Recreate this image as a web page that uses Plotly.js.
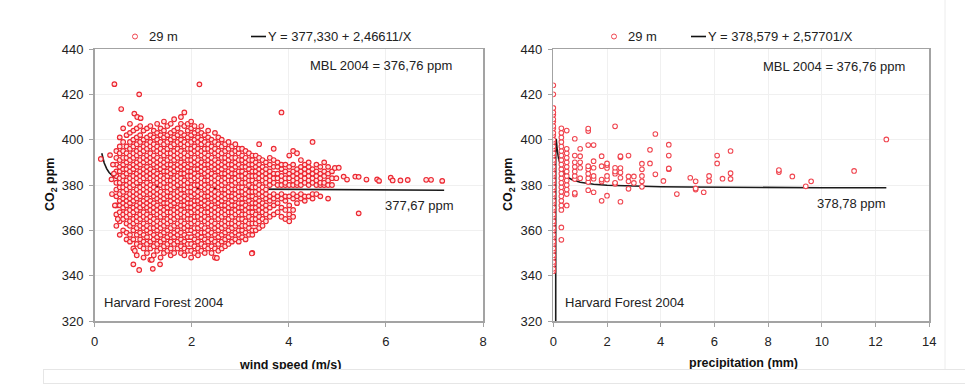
<!DOCTYPE html>
<html><head><meta charset="utf-8">
<script src="https://cdn.plot.ly/plotly-3.0.1.min.js"></script>
<style>html,body{margin:0;padding:0;background:#fff}#chart{width:965px;height:384px}</style>
</head><body><div id="chart"></div>
<script>
// ---------- Left panel: CO2 vs wind speed (values read column by column) ----------
const windSpeedCols = [0.45,0.52,0.59,0.66,0.73,0.80,0.87,0.94,1.01,1.08,1.15,1.22,1.29,1.36,1.43,1.50,1.57,1.64,1.71,1.78,1.85,1.92,1.99,2.06,2.13,2.20,2.27,2.34,2.41,2.48,2.55,2.62,2.69,2.76,2.83,2.90,2.97,3.04,3.11,3.18,3.25,3.32,3.39,3.46,3.53,3.61,3.69,3.77,3.85,3.93,4.01,4.09,4.17,4.25,4.33,4.41,4.49,4.57,4.65,4.73,4.81,4.89];
const co2ByWindCol = [
[362,367,371,375,378,381,384,386,389,392,395],
[358,364,368,371,373,376,379,381,383,386,388,391,394,397,401],
[360,365,367,370,372,374,377,379,382,384,387,389,392,395,399,405],
[356,359,363,366,368,371,373,375,378,380,382,385,387,390,392,394,397,402],
[355,358,362,364,367,369,372,374,376,379,381,383,386,388,391,393,396,399,403,407],
[352,356,360,363,365,368,370,373,375,377,380,382,384,387,389,392,394,397,400,404],
[349,354,358,361,364,366,369,371,374,376,378,381,383,385,388,390,393,395,398,401,405],
[353,356,359,362,365,367,370,372,375,377,379,382,384,386,389,391,394,396,399,402,406],
[348,352,355,358,361,363,366,368,371,373,376,378,380,383,385,387,390,392,395,397,400,404],
[350,354,357,360,362,365,367,370,372,374,377,379,381,384,386,388,391,393,396,398,401,405],
[347,352,355,359,361,364,366,369,371,373,376,378,380,383,385,387,390,392,394,397,399,402,406],
[349,353,356,358,361,363,365,368,370,372,375,377,379,382,384,386,389,391,393,396,398,401,404],
[351,354,357,360,362,364,367,369,371,374,376,378,381,383,385,388,390,392,395,397,400,403,407],
[348,352,355,358,361,363,366,368,370,373,375,377,380,382,384,387,389,391,394,396,399,402,405],
[350,353,356,359,362,364,367,369,372,374,376,379,381,383,386,388,390,393,395,398,401,404,408],
[351,354,357,360,363,365,368,370,372,375,377,379,382,384,386,389,391,394,396,399,402,406],
[349,352,355,358,361,364,366,368,371,373,375,378,380,382,385,387,389,392,394,397,400,403,407],
[350,354,357,359,362,365,367,369,372,374,376,379,381,383,386,388,391,393,395,398,401,404,409],
[352,355,358,360,363,366,368,370,373,375,377,380,382,384,387,389,392,394,396,399,402,405],
[350,353,356,359,362,364,367,369,371,374,376,378,381,383,385,388,390,393,395,398,400,403,407,410],
[349,352,355,358,361,363,366,368,371,373,375,378,380,382,385,387,389,392,394,397,399,402,406,412],
[351,354,357,360,362,365,367,370,372,374,377,379,381,384,386,388,391,393,396,398,401,404,407],
[348,351,354,357,360,363,365,368,370,372,375,377,379,382,384,386,389,391,394,396,399,402,405,408],
[350,353,356,359,361,364,366,369,371,373,376,378,380,383,385,387,390,392,395,397,400,403,406],
[349,352,355,358,361,363,366,368,370,373,375,377,380,382,384,387,389,391,394,396,399,401,404],
[351,354,357,359,362,365,367,369,372,374,376,379,381,383,386,388,390,393,395,398,400,403,406],
[350,353,356,359,361,364,366,368,371,373,375,378,380,382,385,387,389,392,394,396,399,402],
[352,355,358,360,363,365,368,370,372,375,377,379,382,384,386,389,391,393,396,398,401,404],
[350,353,356,359,362,364,367,369,371,374,376,378,381,383,385,388,390,392,395,397,400],
[348,352,355,358,361,363,366,368,370,373,375,377,380,382,384,387,389,391,394,396,399,403],
[351,354,357,360,362,365,367,369,372,374,376,379,381,383,386,388,390,393,395,398,401],
[352,355,358,361,363,366,368,371,373,375,378,380,382,385,387,389,392,394,397,400],
[353,356,359,362,364,367,369,371,374,376,378,381,383,385,388,390,392,395,398],
[354,357,360,363,365,368,370,372,375,377,379,382,384,386,389,391,393,396,399],
[355,358,361,363,366,368,371,373,375,378,380,382,385,387,389,392,394,397],
[356,359,362,364,367,369,371,374,376,378,381,383,385,388,390,392,395,398],
[355,358,360,363,365,368,370,372,375,377,379,382,384,386,389,391,394,396],
[357,360,362,365,367,370,372,374,377,379,381,384,386,388,391,393,396],
[356,359,362,364,367,369,371,374,376,378,381,383,385,388,390,392,395],
[358,361,363,366,368,370,373,375,377,380,382,384,387,389,391,394],
[350,358,360,363,365,368,370,372,375,377,379,382,384,386,389,391,393],
[360,363,365,367,370,372,374,377,379,381,384,386,388,390,393],
[361,364,366,369,371,373,376,378,380,383,385,387,389,392,398],
[362,365,368,370,372,375,377,379,382,384,386,388,391],
[364,367,369,371,374,376,378,381,383,385,387,390],
[366,370,373,375,380,382,384,386,389,392],
[367,371,374,376,381,383,385,388,391,396],
[368,372,375,380,383,385,388,390],
[366,370,374,376,380,382,384,387,389,412],
[365,369,373,375,380,381,383,386,389],
[364,367,371,375,380,383,385,388,393],
[366,369,374,376,380,382,384,386,389,395],
[372,375,380,381,383,385,387,394],
[374,376,380,382,384,386,388,391],
[373,375,381,383,385,387,389],
[375,380,382,384,386,388,390],
[374,376,381,383,385,387,399],
[376,380,382,384,386,389],
[375,380,381,383,385,388],
[380,381,384,386,390],
[374,380,382,385,388],
[380,383,386]
];
const windExtraX = [0.13,0.32,0.35,0.36,0.40,0.41,0.38,0.55,0.82,0.88,0.92,0.95,2.16,0.80,0.92,1.20,1.35,1.18,0.83,2.52,3.24,0.42,0.48,4.95,5.03,4.98,5.13,5.20,5.37,5.44,5.60,5.82,5.86,6.10,6.14,6.30,6.45,6.83,6.93,7.16,5.44];
const windExtraY = [391.5,393.2,382.5,376,385,424.5,389,413.5,411.5,410,420,409.5,424.4,345,342.5,343,345,347,351,347.8,349.8,371,365,387.5,387.6,383,383.7,382.4,383.7,383.6,382.4,382.5,381.8,383.2,382,382,382.2,382.3,382.3,381.8,367.5];
const windFitX = [0.15,0.2,0.25,0.3,0.4,0.5,0.6,0.8,1,1.5,2,3,4,5,5.7,5.7,6.5,7.2];
const windFitY = [394,389.7,387.2,385.5,383.5,382.3,381.4,380.4,379.8,379,378.6,378.2,378,377.9,377.9,377.7,377.7,377.67];

// ---------- Right panel: CO2 vs precipitation ----------
const precipCols = [0,0.3,0.5,0.8,1.0,1.3,1.5,1.8,2.0,2.3,2.5,2.8,3.0,3.3,3.6,3.8,4.1,4.3,4.6,5.1,5.3,5.6,5.8,6.1,6.3,6.6,8.4,8.9,9.4,9.6,11.2,12.4];
const co2ByPrecipCol = [
[342,343,345,346,348,349,351,352,354,355,357,358,360,361,363,364,366,367,369,370,372,373,375,376,378,379,381,382,384,385,387,388,390,391,393,394,396,397,399,400,402,403,405,406,408,409,411,412,414,420,424],
[355.8,361.3,369,371,373,375,377,379,381,383,385,387,389,391,393,395,397,399,401,403,405],
[371,376,378,380,382,384,386,388,390,392,394,396,404],
[375.8,376.5,382.6,384,386,388,390,393,400.4],
[383,387.6,390,392.7,396],
[377.7,381.3,383,385,387,388.3,397.6,403.8,404.9],
[376.8,382.8,384,387.6,390.5,397.6],
[373,381.5,382.4,388.3,392.7],
[375.3,382.4,384,387.5,388.8,389.5],
[380.5,381,385,386,387.6,405.9],
[372.6,383.2,385.5,387.5,392.2,392.7],
[378.3,381.6,383.8,393],
[380.9,383.8],
[379.2,381.6,384,386.9,389.4],
[389.5,395.5],
[384.7,402.5],
[381.8],
[387,387.3,393,397.8],
[376],
[383.2],
[378,378.5,381.6],
[376.8],
[381.8,384],
[389.5,393],
[382.8],
[382.7,385.2,395],
[385.7,386.6],
[383.8],
[379.4],
[381.6],
[386.2],
[400.1]
];
const precipFitX = [0.09,0.09,0.11,0.15,0.2,0.3,0.4,0.5,0.7,1,1.5,2,3,4,5,6,7.4,7.4,10,12.4];
const precipFitY = [320,400,400,395,391.5,387.2,385,383.7,382.3,381.2,380.3,379.9,379.4,379.2,379.1,379,379,378.8,378.8,378.78];

// ---------- Texts ----------
const seriesName = '29 m';
const eqLeft = 'Y = 377,330 + 2,46611/X';
const eqRight = 'Y = 378,579 + 2,57701/X';
const mblText = 'MBL 2004 = 376,76 ppm';
const endLeft = '377,67 ppm';
const endRight = '378,78 ppm';
const siteText = 'Harvard Forest 2004';
const yTitle = 'CO<sub>2</sub> ppm';
const xTitleLeft = 'wind speed (m/s)';
const xTitleRight = 'precipitation (mm)';

function flatten(cols, vals) {
  const x = [], y = [];
  cols.forEach((c, i) => vals[i].forEach(v => { x.push(c); y.push(v); }));
  return {x, y};
}
const wind = flatten(windSpeedCols, co2ByWindCol);
const windX = wind.x.concat(windExtraX), windY = wind.y.concat(windExtraY);
const prec = flatten(precipCols, co2ByPrecipCol);

const RED = 'rgb(236,40,50)';
const markerStyle = {symbol: 'circle', size: 4.6, color: 'rgb(255,226,226)', line: {color: RED, width: 1.2}};
const W = 965, H = 384;
const px = v => v / W, py = v => 1 - v / H;

const traces = [
  {x: windFitX, y: windFitY, mode: 'lines', line: {color: '#1a1a1a', width: 1.6}, xaxis: 'x', yaxis: 'y', hoverinfo: 'skip'},
  {x: windX, y: windY, mode: 'markers', marker: markerStyle, xaxis: 'x', yaxis: 'y', name: seriesName},
  {x: precipFitX, y: precipFitY, mode: 'lines', line: {color: '#1a1a1a', width: 1.6}, xaxis: 'x2', yaxis: 'y2', hoverinfo: 'skip'},
  {x: prec.x, y: prec.y, mode: 'markers', marker: Object.assign({}, markerStyle, {color: '#ffffff', line: {color: 'rgb(240,70,80)', width: 1.1}}), xaxis: 'x2', yaxis: 'y2', name: seriesName}
];

const FONT = 'Liberation Sans, Arial, sans-serif';
const axBase = {
  showline: true, mirror: true, linecolor: '#a3a3a3', linewidth: 1.5,
  ticks: 'outside', ticklen: 4, tickcolor: '#a3a3a3', tickwidth: 1,
  showgrid: true, gridcolor: '#f0f0f0', gridwidth: 1, zeroline: false,
  tickfont: {family: FONT, size: 13, color: '#222'}
};
const yDom = [1 - 321 / H, 1 - 49 / H];

function ann(text, x, y, opt) {
  return Object.assign({text: text, x: px(x), y: py(y), xref: 'paper', yref: 'paper', showarrow: false,
    xanchor: 'left', yanchor: 'middle', font: {family: FONT, size: 13, color: '#222'}}, opt || {});
}
const bold = {family: FONT, size: 12.5, color: '#111', weight: 'bold'};

const annotations = [
  ann(seriesName, 147, 36.5),
  ann(eqLeft, 266, 36.5),
  ann(mblText, 454, 65, {xanchor: 'right'}),
  ann(endLeft, 456, 205, {xanchor: 'right'}),
  ann(siteText, 102, 302),
  ann('<b>' + yTitle + '</b>', 51, 185, {xanchor: 'center', textangle: -90, font: bold}),
  ann('<b>' + xTitleLeft + '</b>', 290, 365, {xanchor: 'center', font: bold}),
  ann(seriesName, 626, 36.5),
  ann(eqRight, 706, 36.5),
  ann(mblText, 907, 66, {xanchor: 'right'}),
  ann(endRight, 888, 203, {xanchor: 'right'}),
  ann(siteText, 563, 302),
  ann('<b>' + yTitle + '</b>', 509, 185, {xanchor: 'center', textangle: -90, font: bold}),
  ann('<b>' + xTitleRight + '</b>', 743, 363, {xanchor: 'center', font: bold}),
  // pale box at the bottom of the page, overlapping the left axis title
  {text: ' ', x: px(43), y: py(384), xref: 'paper', yref: 'paper', showarrow: false, xanchor: 'left', yanchor: 'bottom',
   width: 930, height: 13, bgcolor: '#ffffff', bordercolor: '#e6e6e6', borderwidth: 1, borderpad: 0}
];

const shapes = [
  {type: 'circle', xref: 'paper', yref: 'paper', x0: px(132.5), x1: px(137.5), y0: py(39), y1: py(34), line: {color: 'rgb(240,70,80)', width: 1}, fillcolor: '#fff'},
  {type: 'line', xref: 'paper', yref: 'paper', x0: px(251), x1: px(266), y0: py(36.5), y1: py(36.5), line: {color: '#111', width: 1.6}},
  {type: 'circle', xref: 'paper', yref: 'paper', x0: px(611.5), x1: px(616.5), y0: py(39), y1: py(34), line: {color: 'rgb(240,70,80)', width: 1}, fillcolor: '#fff'},
  {type: 'line', xref: 'paper', yref: 'paper', x0: px(691), x1: px(706), y0: py(36.5), y1: py(36.5), line: {color: '#111', width: 1.6}},
  {type: 'line', xref: 'paper', yref: 'paper', x0: px(945), x1: px(945), y0: py(0), y1: py(371), line: {color: '#ececec', width: 1}}
];

const layout = {
  width: W, height: H, margin: {l: 0, r: 0, t: 0, b: 0},
  paper_bgcolor: '#fff', plot_bgcolor: '#fff', showlegend: false,
  font: {family: FONT, size: 13, color: '#222'},
  xaxis: Object.assign({}, axBase, {domain: [94.5 / W, 483 / W], range: [0, 8], tickvals: [0, 2, 4, 6, 8], anchor: 'y', ticklabelstandoff: 4}),
  yaxis: Object.assign({}, axBase, {domain: yDom, range: [320, 440], tickvals: [320, 340, 360, 380, 400, 420, 440], anchor: 'x', ticklabelstandoff: 3}),
  xaxis2: Object.assign({}, axBase, {domain: [553.3 / W, 929.3 / W], range: [0, 14], tickvals: [0, 2, 4, 6, 8, 10, 12, 14], anchor: 'y2', ticklabelstandoff: 4}),
  yaxis2: Object.assign({}, axBase, {domain: yDom, range: [320, 440], tickvals: [320, 340, 360, 380, 400, 420, 440], anchor: 'x2', ticklabelstandoff: 3}),
  annotations: annotations,
  shapes: shapes
};

Plotly.newPlot('chart', traces, layout, {staticPlot: true, displayModeBar: false});
</script>
</body></html>
